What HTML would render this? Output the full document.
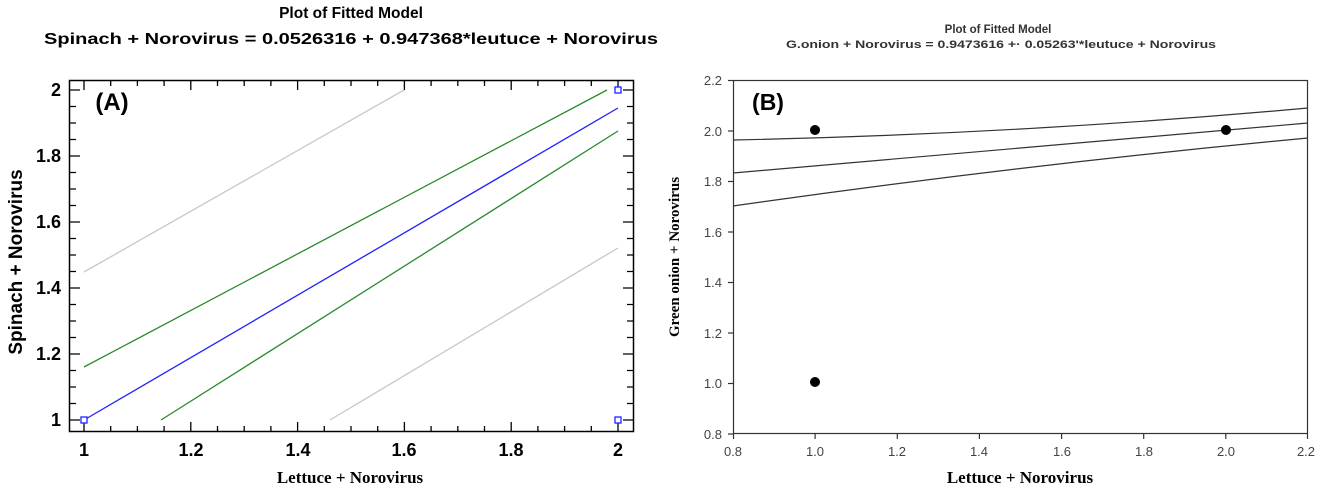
<!DOCTYPE html>
<html><head><meta charset="utf-8"><style>
html,body{margin:0;padding:0;background:#fff;width:1320px;height:493px;overflow:hidden}
svg{display:block}
</style></head><body>
<svg width="1320" height="493" viewBox="0 0 1320 493" xmlns="http://www.w3.org/2000/svg">
<!-- Chart A -->
<g font-family="Liberation Sans, sans-serif" font-weight="bold" fill="#000">
<text x="351" y="18" font-size="15.5" text-anchor="middle">Plot of Fitted Model</text>
<text x="351" y="44" font-size="16" text-anchor="middle" textLength="614" lengthAdjust="spacingAndGlyphs">Spinach  + Norovirus = 0.0526316 + 0.947368*leutuce  + Norovirus</text>
</g>
<rect x="69.5" y="80.5" width="564" height="351" fill="none" stroke="#000" stroke-width="1.5"/>
<path stroke="#000" stroke-width="1.3" fill="none" d="
M84,431v-9M110.7,431v-5M137.4,431v-5M164.1,431v-5M190.8,431v-9M217.5,431v-5M244.2,431v-5M270.9,431v-5M297.6,431v-9M324.3,431v-5M351,431v-5M377.7,431v-5M404.4,431v-9M431.1,431v-5M457.8,431v-5M484.5,431v-5M511.2,431v-9M537.9,431v-5M564.6,431v-5M591.3,431v-5M618,431v-9
M84,81v9M110.7,81v5M137.4,81v5M164.1,81v5M190.8,81v9M217.5,81v5M244.2,81v5M270.9,81v5M297.6,81v9M324.3,81v5M351,81v5M377.7,81v5M404.4,81v9M431.1,81v5M457.8,81v5M484.5,81v5M511.2,81v9M537.9,81v5M564.6,81v5M591.3,81v5M618,81v9
M70,420h10M70,403.5h6M70,387h6M70,370.5h6M70,354h10M70,337.5h6M70,321h6M70,304.5h6M70,288h10M70,271.5h6M70,255h6M70,238.5h6M70,222h10M70,205.5h6M70,189h6M70,172.5h6M70,156h10M70,139.5h6M70,123h6M70,106.5h6M70,90h10
M633,420h-10M633,403.5h-6M633,387h-6M633,370.5h-6M633,354h-10M633,337.5h-6M633,321h-6M633,304.5h-6M633,288h-10M633,271.5h-6M633,255h-6M633,238.5h-6M633,222h-10M633,205.5h-6M633,189h-6M633,172.5h-6M633,156h-10M633,139.5h-6M633,123h-6M633,106.5h-6M633,90h-10"/>
<g font-family="Liberation Sans, sans-serif" font-weight="bold" font-size="18" fill="#000">
<text x="61" y="426" text-anchor="end">1</text>
<text x="61" y="360" text-anchor="end">1.2</text>
<text x="61" y="294" text-anchor="end">1.4</text>
<text x="61" y="228" text-anchor="end">1.6</text>
<text x="61" y="162" text-anchor="end">1.8</text>
<text x="61" y="96" text-anchor="end">2</text>
<text x="84" y="456" text-anchor="middle">1</text>
<text x="191" y="456" text-anchor="middle">1.2</text>
<text x="298" y="456" text-anchor="middle">1.4</text>
<text x="404" y="456" text-anchor="middle">1.6</text>
<text x="511" y="456" text-anchor="middle">1.8</text>
<text x="618" y="456" text-anchor="middle">2</text>
<text x="112" y="110" font-size="24" text-anchor="middle">(A)</text>
<text transform="translate(22,262) rotate(-90)" text-anchor="middle" font-size="19">Spinach  + Norovirus</text>
</g>
<text x="350" y="483" font-family="Liberation Serif, serif" font-weight="bold" font-size="17" text-anchor="middle">Lettuce + Norovirus</text>
<g fill="none" stroke-width="1.3">
<line x1="84" y1="272" x2="404" y2="90" stroke="#c8c8c8"/>
<line x1="330" y1="420" x2="618" y2="248" stroke="#c8c8c8"/>
<line x1="84" y1="367" x2="607" y2="90" stroke="#2a8a2a"/>
<line x1="161" y1="420" x2="618" y2="131" stroke="#2a8a2a"/>
<line x1="84" y1="420" x2="618" y2="108" stroke="#2020ff"/>
</g>
<g fill="#fff" stroke="#2020ff" stroke-width="1.3">
<rect x="81" y="417" width="6" height="6"/>
<rect x="615" y="87" width="6" height="6"/>
<rect x="615" y="417" width="6" height="6"/>
</g>

<!-- Chart B -->
<g font-family="Liberation Sans, sans-serif" font-weight="bold" fill="#333">
<text x="998" y="33" font-size="11.5" text-anchor="middle">Plot of Fitted Model</text>
<text x="1001" y="48" font-size="11" text-anchor="middle" textLength="430" lengthAdjust="spacingAndGlyphs">G.onion  + Norovirus = 0.9473616 +· 0.05263'*leutuce  + Norovirus</text>
</g>
<rect x="733.5" y="80.5" width="574" height="353" fill="none" stroke="#333" stroke-width="1.2"/>
<g stroke="#333" stroke-width="1.2">
<line x1="728" y1="80.5" x2="733" y2="80.5"/><line x1="728" y1="131" x2="733" y2="131"/><line x1="728" y1="181.5" x2="733" y2="181.5"/><line x1="728" y1="232" x2="733" y2="232"/><line x1="728" y1="282.5" x2="733" y2="282.5"/><line x1="728" y1="333" x2="733" y2="333"/><line x1="728" y1="383.5" x2="733" y2="383.5"/><line x1="728" y1="434" x2="733" y2="434"/>
<line x1="733.5" y1="434" x2="733.5" y2="439"/><line x1="815.1" y1="434" x2="815.1" y2="439"/><line x1="897.3" y1="434" x2="897.3" y2="439"/><line x1="979.4" y1="434" x2="979.4" y2="439"/><line x1="1061.6" y1="434" x2="1061.6" y2="439"/><line x1="1143.7" y1="434" x2="1143.7" y2="439"/><line x1="1225.8" y1="434" x2="1225.8" y2="439"/><line x1="1307.5" y1="434" x2="1307.5" y2="439"/>
</g>
<g font-family="Liberation Sans, sans-serif" font-size="13" fill="#444" text-anchor="end">
<text x="722" y="85">2.2</text><text x="722" y="136">2.0</text><text x="722" y="186">1.8</text><text x="722" y="237">1.6</text><text x="722" y="287">1.4</text><text x="722" y="338">1.2</text><text x="722" y="388">1.0</text><text x="722" y="439">0.8</text>
</g>
<g font-family="Liberation Sans, sans-serif" font-size="13" fill="#444" text-anchor="middle">
<text x="733" y="456">0.8</text><text x="815" y="456">1.0</text><text x="897" y="456">1.2</text><text x="979" y="456">1.4</text><text x="1062" y="456">1.6</text><text x="1144" y="456">1.8</text><text x="1226" y="456">2.0</text><text x="1306" y="456">2.2</text>
</g>
<text x="768" y="110" font-family="Liberation Sans, sans-serif" font-weight="bold" font-size="23" text-anchor="middle">(B)</text>
<text x="1020" y="483" font-family="Liberation Serif, serif" font-weight="bold" font-size="17" text-anchor="middle">Lettuce + Norovirus</text>
<text transform="translate(679,257) rotate(-90)" font-family="Liberation Serif, serif" font-weight="bold" font-size="15" text-anchor="middle">Green onion + Norovirus</text>
<g fill="none" stroke="#333" stroke-width="1.2">
<path d="M733,140 Q1020,134 1308,108"/>
<path d="M733,173 L1308,123"/>
<path d="M733,206 Q1020,165 1308,138"/>
</g>
<g fill="#000">
<circle cx="815" cy="130" r="5"/><circle cx="815" cy="382" r="5"/><circle cx="1226" cy="130" r="5"/>
</g>
</svg>
</body></html>
